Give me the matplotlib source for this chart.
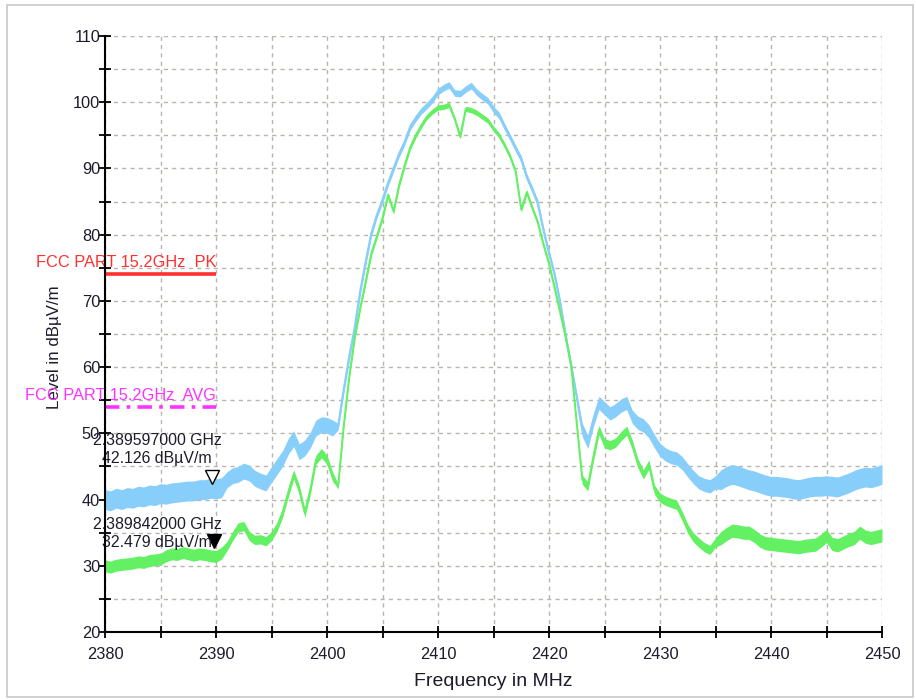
import numpy as np
import matplotlib
matplotlib.use('Agg')
import matplotlib.pyplot as plt
from matplotlib.patches import Rectangle

plt.rcParams['font.family'] = ['Liberation Sans', 'DejaVu Sans']

# frequency grid of the sweep, MHz (0.5 MHz steps)
freq = np.arange(2380.0, 2450.01, 0.5)

# peak detector trace (dBuV/m)
peak_level = [
    40.0, 39.8, 40.2, 40.0, 40.3, 40.2, 40.5, 40.4, 40.7, 40.6,
    40.9, 40.8, 41.0, 41.1, 41.2, 41.3, 41.3, 41.5, 41.5, 41.7,
    41.6, 41.8, 43.0, 43.6, 43.8, 44.3, 44.0, 43.2, 42.8, 42.5,
    43.8, 45.0, 46.2, 48.0, 49.2, 47.2, 47.8, 49.0, 50.8, 51.3,
    51.2, 50.8, 51.0, 56.5, 61.5, 66.0, 71.5, 76.0, 80.2, 83.0,
    85.2, 87.8, 90.0, 92.2, 94.0, 96.3, 97.6, 98.7, 99.5, 100.4,
    101.6, 102.2, 102.6, 101.4, 101.3, 102.0, 102.5, 101.5, 100.8, 100.2,
    98.9, 98.0, 96.3, 94.7, 93.0, 91.4, 88.7, 86.8, 84.7, 80.7,
    77.2, 74.0, 69.8, 64.8, 60.2, 55.5, 50.5, 48.7, 52.0, 54.6,
    53.8, 53.0, 53.5, 54.2, 54.6, 52.5, 51.6, 51.2, 50.3, 48.8,
    47.5, 46.8, 46.4, 46.2, 45.5, 44.4, 43.4, 42.6, 42.2, 42.0,
    42.6, 43.0, 43.5, 43.8, 43.6, 43.3, 43.0, 42.8, 42.5, 42.2,
    42.0, 42.0, 41.9, 41.8, 41.6, 41.5, 41.7, 41.9, 42.0, 42.0,
    42.1, 42.0, 41.9, 42.2, 42.5, 42.9, 43.2, 43.4, 43.3, 43.5,
    43.8,
]
# half height of the noise band around the peak trace
peak_spread = [
    1.5, 1.5, 1.5, 1.5, 1.5, 1.5, 1.5, 1.5, 1.5, 1.5,
    1.5, 1.5, 1.5, 1.5, 1.5, 1.5, 1.5, 1.5, 1.5, 1.5,
    1.5, 1.5, 1.2, 1.2, 1.2, 1.2, 1.2, 1.2, 1.2, 1.2,
    1.2, 1.2, 1.2, 1.2, 1.2, 1.2, 1.2, 1.2, 1.2, 1.2,
    1.2, 1.2, 0.5, 0.5, 0.5, 0.5, 0.5, 0.5, 0.5, 0.5,
    0.5, 0.5, 0.5, 0.5, 0.5, 0.5, 0.5, 0.5, 0.5, 0.5,
    0.5, 0.5, 0.5, 0.5, 0.5, 0.5, 0.5, 0.5, 0.5, 0.5,
    0.5, 0.5, 0.5, 0.5, 0.5, 0.5, 0.5, 0.5, 0.5, 0.5,
    0.5, 0.5, 0.5, 0.5, 0.5, 0.5, 1.0, 1.0, 1.0, 1.0,
    1.0, 1.0, 1.0, 1.0, 1.0, 1.0, 1.0, 1.0, 1.0, 1.0,
    1.0, 1.0, 1.0, 1.0, 1.0, 1.0, 1.0, 1.0, 1.0, 1.0,
    1.0, 1.5, 1.5, 1.5, 1.5, 1.5, 1.5, 1.5, 1.5, 1.5,
    1.5, 1.5, 1.5, 1.5, 1.5, 1.5, 1.5, 1.5, 1.5, 1.5,
    1.5, 1.5, 1.5, 1.5, 1.5, 1.5, 1.5, 1.5, 1.5, 1.5,
    1.5,
]

# average detector trace (dBuV/m)
avg_level = [
    30.0, 29.8, 30.1, 30.2, 30.3, 30.4, 30.6, 30.5, 30.8, 30.9,
    31.0, 31.5, 31.8, 31.7, 32.0, 31.8, 31.6, 31.8, 31.7, 31.5,
    31.4, 31.9, 33.0, 34.5, 35.8, 36.0, 34.5, 33.9, 34.0, 33.7,
    34.5, 35.9, 38.0, 41.0, 43.8, 41.5, 38.0, 41.5, 46.0, 47.0,
    46.0, 43.5, 42.0, 51.0, 58.5, 64.5, 69.0, 73.0, 77.2, 79.8,
    82.5, 86.0, 83.5, 87.5, 90.5, 93.2, 95.0, 96.5, 97.8, 98.6,
    99.2, 99.3, 99.6, 97.5, 94.8, 99.0, 98.8, 98.4, 97.8, 97.2,
    96.0, 95.0, 93.5, 91.8, 89.5, 83.8, 86.4, 84.0, 81.8, 78.5,
    75.6, 72.0, 68.3, 64.5, 60.2, 51.5, 43.0, 42.0, 46.5, 50.5,
    48.5, 48.2, 48.6, 49.6, 50.4, 48.3, 45.5, 43.8, 45.3, 41.5,
    40.3, 39.8, 39.5, 39.2, 37.5, 35.6, 34.3, 33.5, 32.8, 32.4,
    33.5, 34.2, 34.8, 35.3, 35.2, 35.0, 35.0, 34.5, 33.8, 33.4,
    33.3, 33.2, 33.1, 33.0, 32.9, 32.8, 33.0, 33.1, 33.2, 33.8,
    34.5, 33.3, 33.1, 33.5, 33.9, 34.2, 35.0, 34.4, 34.2, 34.4,
    34.6,
]
avg_spread = [
    0.9, 0.9, 0.9, 0.9, 0.9, 0.9, 0.9, 0.9, 0.9, 0.9,
    0.9, 0.9, 0.9, 0.9, 0.9, 0.9, 0.9, 0.9, 0.9, 0.9,
    0.9, 0.9, 0.7, 0.7, 0.7, 0.7, 0.7, 0.7, 0.7, 0.7,
    0.7, 0.7, 0.7, 0.7, 0.7, 0.7, 0.7, 0.7, 0.7, 0.7,
    0.7, 0.7, 0.4, 0.4, 0.4, 0.4, 0.4, 0.4, 0.4, 0.4,
    0.4, 0.4, 0.4, 0.4, 0.4, 0.4, 0.4, 0.4, 0.4, 0.4,
    0.4, 0.4, 0.4, 0.4, 0.4, 0.4, 0.4, 0.4, 0.4, 0.4,
    0.4, 0.4, 0.4, 0.4, 0.4, 0.4, 0.4, 0.4, 0.4, 0.4,
    0.4, 0.4, 0.4, 0.4, 0.4, 0.4, 0.7, 0.7, 0.7, 0.7,
    0.7, 0.7, 0.7, 0.7, 0.7, 0.7, 0.7, 0.7, 0.7, 0.7,
    0.7, 0.7, 0.7, 0.7, 0.7, 0.7, 0.7, 0.7, 0.7, 0.7,
    0.7, 1.0, 1.0, 1.0, 1.0, 1.0, 1.0, 1.0, 1.0, 1.0,
    1.0, 1.0, 1.0, 1.0, 1.0, 1.0, 1.0, 1.0, 1.0, 1.0,
    1.0, 1.0, 1.0, 1.0, 1.0, 1.0, 1.0, 1.0, 1.0, 1.0,
    1.0,
]

# limit lines
limit_names = ['FCC PART 15.2GHz  PK', 'FCC PART 15.2GHz  AVG']
limit_levels = [74, 54]
limit_span = [2380, 2390]

# markers: (freq MHz, level, label lines)
marker_freq = [2389.597, 2389.842]
marker_level = [42.126, 32.479]
marker_text = ['2.389597000 GHz\n42.126 dB\u00b5V/m', '2.389842000 GHz\n32.479 dB\u00b5V/m']

BLUE = '#87CEFA'
GREEN = '#63F063'
TXT = '#1c1c2c'

fig = plt.figure(figsize=(9.16, 7.0), dpi=100)
fig.patches.append(Rectangle((7 / 916, 3 / 700), 906 / 916, 692 / 700, transform=fig.transFigure,
                             fill=False, edgecolor='#c8c8c8', linewidth=1.2))
ax = fig.add_axes([105 / 916, 1 - 632 / 700, 777 / 916, 596 / 700])

pk = np.array(peak_level)
av = np.array(avg_level)
pks = np.array(peak_spread)
avs = np.array(avg_spread)

ax.fill_between(freq, pk - pks, pk + pks, color=BLUE, lw=0, zorder=3)
ax.plot(freq, pk, color=BLUE, lw=1.6, zorder=3)
ax.fill_between(freq, av - avs, av + avs, color=GREEN, lw=0, zorder=4)
ax.plot(freq, av, color=GREEN, lw=1.4, zorder=4)

# limit lines with their names
ax.plot(limit_span, [limit_levels[0]] * 2, color='#FF3030', lw=2.6, zorder=5, solid_capstyle='butt')
ax.plot(limit_span, [limit_levels[1]] * 2, color='#FF33FF', lw=2.6, zorder=5,
        linestyle=(0, (4, 2, 1, 2)), dash_capstyle='butt')
ax.text(limit_span[1], limit_levels[0] + 0.6, limit_names[0], color='#FF3030', fontsize=11.8,
        ha='right', va='bottom', zorder=6, clip_on=False)
ax.text(limit_span[1], limit_levels[1] + 0.6, limit_names[1], color='#FF33FF', fontsize=11.8,
        ha='right', va='bottom', zorder=6, clip_on=False)

# markers (triangle tip touching the trace)
ax.plot(marker_freq[0], marker_level[0] + 1.3, marker='v', ms=10, mfc='white', mec='black', mew=1.0, zorder=7)
ax.plot(marker_freq[1], marker_level[1] + 1.3, marker='v', ms=10, mfc='black', mec='black', zorder=7)
ax.text(2384.7, 47.5, marker_text[0], ha='center', va='center', fontsize=11.4, color=TXT,
        linespacing=1.25, zorder=8, clip_on=False)
ax.text(2384.7, 34.8, marker_text[1], ha='center', va='center', fontsize=11.4, color=TXT,
        linespacing=1.25, zorder=8, clip_on=False)

ax.set_xlim(2380, 2450)
ax.set_ylim(20, 110)
ax.set_xticks(np.arange(2380, 2451, 10))
ax.set_xticks(np.arange(2385, 2450, 10), minor=True)
ax.set_yticks(np.arange(20, 111, 10))
ax.set_yticks(np.arange(25, 110, 10), minor=True)
ax.grid(True, which='both', color='#b8b4ae', linestyle=(0, (3, 3)), linewidth=1.0, zorder=1)
ax.set_axisbelow(True)

for s in ['top', 'right']:
    ax.spines[s].set_visible(False)
for s in ['left', 'bottom']:
    ax.spines[s].set_linewidth(1.5)
    ax.spines[s].set_zorder(9)

ax.tick_params(which='both', direction='inout', length=9, width=1.3, colors='black', labelcolor=TXT,
               labelsize=11.8)
ax.tick_params(axis='y', pad=-1)
ax.tick_params(axis='x', pad=6)

ax.set_xlabel('Frequency in MHz', fontsize=14, color=TXT, labelpad=8)
ax.set_ylabel('Level in dB\u00b5V/m', fontsize=12.2, color=TXT)
ax.yaxis.set_label_coords(-0.055, 0.478)

fig.savefig('out.png', dpi=100)
